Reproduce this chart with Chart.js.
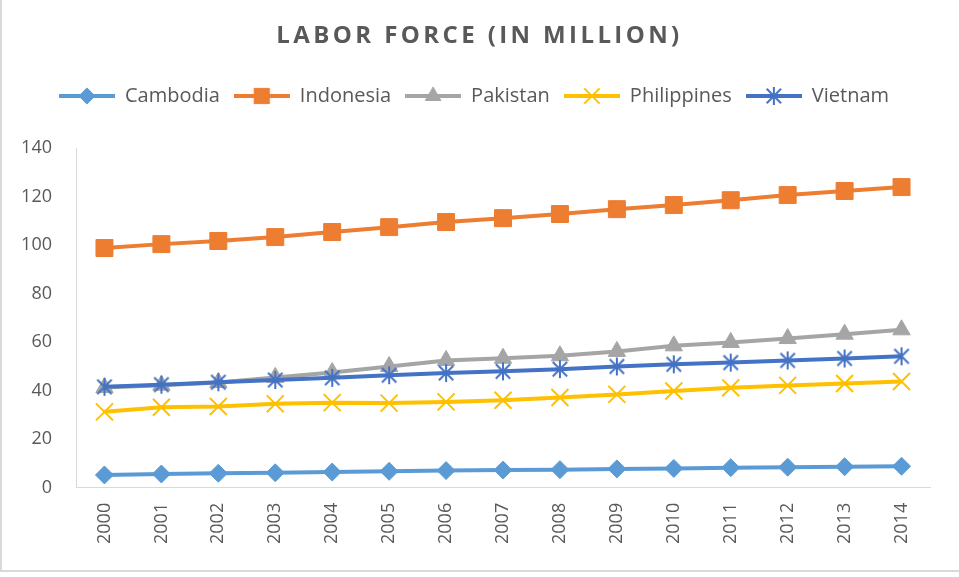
<!DOCTYPE html>
<html>
<head>
<meta charset="utf-8">
<script src="https://cdn.jsdelivr.net/npm/chart.js@4.4.0/dist/chart.umd.min.js"></script>
<style>
  html, body { margin: 0; padding: 0; background: #fff; }
  #wrap { position: relative; width: 959px; height: 577px; overflow: hidden; }
  #frame { position: absolute; left: 0; top: 0; width: 957px; height: 570px;
           border-left: 2px solid #d9d9d9; border-bottom: 2px solid #d9d9d9; }
  #title { position: absolute; left: 0; top: 22px; width: 959px; text-align: center;
           font: bold 24px/24px "Open Sans", sans-serif; letter-spacing: 3.4px; color: #595959; }
  canvas { position: absolute; left: 0; top: 0; }
</style>
</head>
<body>
<div id="wrap">
  <div id="frame"></div>
  <canvas id="lineChart" width="959" height="577"></canvas>
  <div id="title">LABOR FORCE (IN MILLION)</div>
</div>
<script>
// x-axis labels
const years = ["2000", "2001", "2002", "2003", "2004", "2005", "2006", "2007",
  "2008", "2009", "2010", "2011", "2012", "2013", "2014"];
// labor force per country, in million
const cambodia = [5.3, 5.7, 6.0, 6.2, 6.5, 6.8, 7.1, 7.3, 7.5, 7.8, 8.0, 8.3, 8.5, 8.7, 8.9];
const indonesia = [98.8, 100.4, 101.7, 103.3, 105.4, 107.4, 109.5, 111.1, 112.8, 114.8, 116.5, 118.5, 120.6, 122.3, 123.9];
const pakistan = [41.3, 42.3, 43.4, 45.5, 47.5, 50.0, 52.5, 53.4, 54.4, 56.2, 58.5, 59.9, 61.5, 63.3, 65.1];
const philippines = [31.3, 33.2, 33.5, 34.6, 35.1, 34.9, 35.4, 36.1, 37.2, 38.5, 39.9, 41.2, 42.2, 43.0, 43.8];
const vietnam = [41.6, 42.5, 43.5, 44.4, 45.3, 46.4, 47.3, 48.0, 48.9, 50.0, 50.9, 51.6, 52.5, 53.3, 54.2];
// y-axis range
const yMin = 0, yMax = 140, yStep = 20;

const textColor = "#595959";

// excel style asterisk: vertical bar plus an X
function asterisk(color, r) {
  const c = document.createElement("canvas");
  c.width = c.height = 2 * r + 4;
  const g = c.getContext("2d");
  const m = r + 2, d = r * 0.8;
  g.strokeStyle = color;
  g.lineWidth = 2;
  g.beginPath();
  g.moveTo(m, m - r); g.lineTo(m, m + r);
  g.moveTo(m - d, m - d); g.lineTo(m + d, m + d);
  g.moveTo(m - d, m + d); g.lineTo(m + d, m - d);
  g.stroke();
  return c;
}

const series = [
  { label: "Cambodia", data: cambodia, color: "#5B9BD5", style: "rectRot", radius: 9, bw: 1 },
  { label: "Indonesia", data: indonesia, color: "#ED7D31", style: "rect", radius: 12, bw: 1 },
  { label: "Pakistan", data: pakistan, color: "#A5A5A5", style: "triangle", radius: 10, bw: 1 },
  { label: "Philippines", data: philippines, color: "#FFC000", style: "crossRot", radius: 12, bw: 2 },
  { label: "Vietnam", data: vietnam, color: "#4472C4", style: asterisk("#4472C4", 9), radius: 9, bw: 2 },
];

// legend swatch: line with marker in the middle
function legendSwatch(s) {
  const c = document.createElement("canvas");
  c.width = 56; c.height = 22;
  const g = c.getContext("2d");
  g.strokeStyle = s.color;
  g.lineWidth = 4;
  g.beginPath();
  g.moveTo(0, 11); g.lineTo(56, 11);
  g.stroke();
  if (typeof s.style === "string") {
    g.fillStyle = s.color;
    g.strokeStyle = s.color;
    g.lineWidth = s.bw;
    Chart.helpers.drawPoint(g, { pointStyle: s.style, radius: s.radius * 0.9, rotation: 0, borderWidth: s.bw }, 28, 11);
  } else {
    g.drawImage(s.style, 28 - s.style.width / 2, 11 - s.style.height / 2);
  }
  return c;
}

// extra room between legend and plot
const legendGap = {
  id: "legendGap",
  beforeInit(chart) {
    const fit = chart.legend.fit;
    chart.legend.fit = function () {
      fit.call(this);
      this.height += 32;
    };
  },
};

const ctx = document.getElementById("lineChart");
new Chart(ctx, {
  type: "line",
  plugins: [legendGap],
  data: {
    labels: years,
    datasets: series.map((s, i) => ({
      label: s.label,
      data: s.data,
      borderColor: s.color,
      backgroundColor: s.color,
      borderWidth: 4,
      pointStyle: s.style,
      pointRadius: s.radius,
      pointBorderWidth: s.bw,
      pointBackgroundColor: s.color,
      pointBorderColor: s.color,
      tension: 0,
      fill: false,
      order: series.length - i,
    })),
  },
  options: {
    responsive: false,
    animation: false,
    layout: { padding: { top: 72, left: 18, right: 29, bottom: 18 } },
    plugins: {
      title: { display: false },
      tooltip: { enabled: false },
      legend: {
        position: "top",
        labels: {
          usePointStyle: true,
          pointStyleWidth: 56,
          padding: 14,
          color: textColor,
          font: { family: "'Open Sans'", size: 20 },
          generateLabels: (chart) => series.map((s, i) => ({
            text: s.label,
            pointStyle: legendSwatch(s),
            fillStyle: s.color,
            strokeStyle: s.color,
            lineWidth: 0,
            fontColor: textColor,
            hidden: false,
            datasetIndex: i,
          })),
        },
      },
    },
    scales: {
      x: {
        offset: true,
        grid: { display: false, drawTicks: false },
        border: { display: true, color: "#d9d9d9", width: 1 },
        ticks: {
          color: textColor,
          font: { family: "'Open Sans'", size: 18 },
          minRotation: 90,
          maxRotation: 90,
          padding: 15,
        },
      },
      y: {
        min: yMin,
        max: yMax,
        grid: { display: false, drawTicks: false },
        border: { display: true, color: "#d9d9d9", width: 1 },
        afterFit(scale) { scale.width = 58; },
        ticks: {
          stepSize: yStep,
          color: textColor,
          font: { family: "'Open Sans'", size: 18 },
          padding: 24,
        },
      },
    },
  },
});
</script>
</body>
</html>
